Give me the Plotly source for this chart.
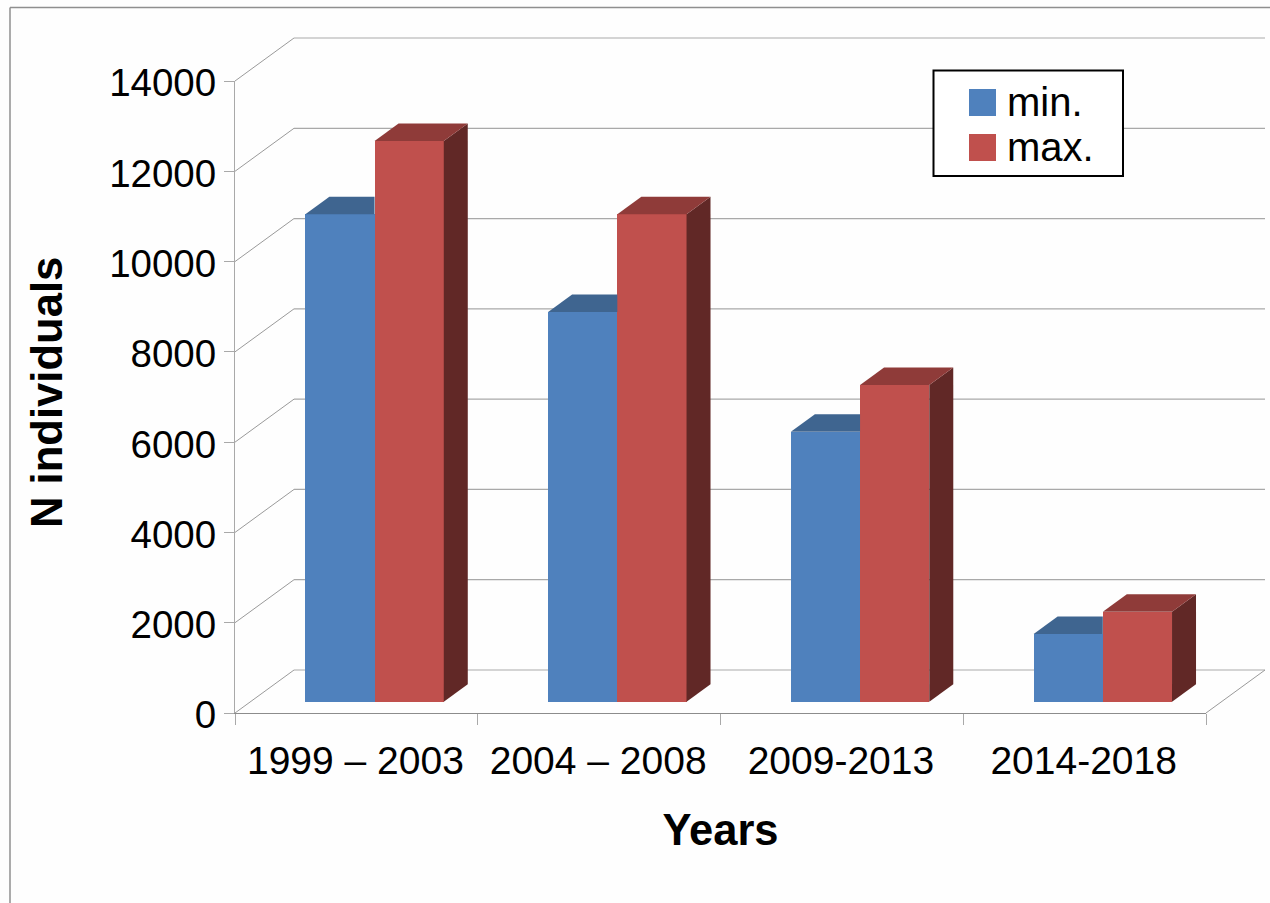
import plotly.graph_objects as go

# ---- data ----
periods = ["1999 – 2003", "2004 – 2008", "2009-2013", "2014-2018"]
min_values = [10800, 8630, 5980, 1500]
max_values = [12420, 10800, 7015, 1990]
y_ticks = [0, 2000, 4000, 6000, 8000, 10000, 12000, 14000]
series_names = ["min.", "max."]

# ---- layout geometry (pixels of the front plane) ----
L, R, T, B = 235, 1206, 81, 713
W, H = 1270, 903
XMAX, YMAX = len(periods), 14000
PX_X = (R - L) / XMAX          # px per category
PX_Y = (B - T) / YMAX          # px per value unit


def xu(px):
    return px / PX_X


def yu(px):
    return px / PX_Y


WALL_DX, WALL_DY = xu(59), yu(43)
OFF_DX, OFF_DY = xu(18.2), yu(11.3)
BAR_DX, BAR_DY = xu(24), yu(17.5)
BAR_W = xu(69.2)

BLUE = ["#4F81BD", "#3F6590", "#2F4C6E"]
RED = ["#C0504D", "#8F3B39", "#612826"]
GRID = "#A9A9A9"
AXIS = "#8C8C8C"
FONT = "Liberation Sans"
TICK_SIZE = 38.5


def px2paperx(px):
    return (px - L) / (R - L)


def px2papery(px):
    return (B - px) / (B - T)


def dx2p(x):
    return x / XMAX


def dy2p(y):
    return y / YMAX


shapes = []


def seg(x0, y0, x1, y1, color=GRID, width=1.2, layer="below"):
    shapes.append(dict(type="line", xref="paper", yref="paper",
                       x0=x0, y0=y0, x1=x1, y1=y1, layer=layer,
                       line=dict(color=color, width=width)))


# outer frame
seg(px2paperx(10), px2papery(903), px2paperx(10), px2papery(7.5), "#8F8F8F", 1.5)
seg(px2paperx(10), px2papery(7.5), px2paperx(1270), px2papery(7.5), "#8F8F8F", 1.5)

# 3D walls: diagonal on the side wall + horizontal on the back wall
for v in y_ticks:
    seg(0, dy2p(v), dx2p(WALL_DX), dy2p(v + WALL_DY), color="#9A9A9A", width=1)
    seg(dx2p(WALL_DX), dy2p(v + WALL_DY), dx2p(XMAX + WALL_DX), dy2p(v + WALL_DY))
seg(1, 0, dx2p(XMAX + WALL_DX), dy2p(WALL_DY), color="#9A9A9A", width=1)

fig = go.Figure()

base = OFF_DY
for s, (vals, cols, name) in enumerate(zip([min_values, max_values], [BLUE, RED], series_names)):
    xs = [i + 0.5 + OFF_DX + (s - 0.5) * BAR_W for i in range(len(periods))]
    fig.add_trace(go.Bar(x=xs, y=vals, base=[base] * len(vals), width=[BAR_W] * len(vals),
                         name=name, marker=dict(color=cols[0], line=dict(width=0)),
                         showlegend=False, hoverinfo="skip"))

for s, (vals, cols) in enumerate(zip([min_values, max_values], [BLUE, RED])):
    for i, v in enumerate(vals):
        xc = i + 0.5 + OFF_DX + (s - 0.5) * BAR_W
        x0, x1 = xc - BAR_W / 2, xc + BAR_W / 2
        top = v + base
        if s == 0:
            # the taller neighbour hides the part of the top to the right of the joint
            tx = [x0, x1, x1, x0 + BAR_DX, x0]
            ty = [top, top, top + BAR_DY, top + BAR_DY, top]
        else:
            tx = [x0, x1, x1 + BAR_DX, x0 + BAR_DX, x0]
            ty = [top, top, top + BAR_DY, top + BAR_DY, top]
            fig.add_trace(go.Scatter(
                x=[x1, x1 + BAR_DX, x1 + BAR_DX, x1, x1],
                y=[base, base + BAR_DY, top + BAR_DY, top, base],
                mode="lines", fill="toself", fillcolor=cols[2],
                line=dict(width=0), showlegend=False, hoverinfo="skip"))
        fig.add_trace(go.Scatter(x=tx, y=ty, mode="lines", fill="toself", fillcolor=cols[1],
                                 line=dict(width=0), showlegend=False, hoverinfo="skip"))

# legend, drawn at the reference's size
box = dict(type="rect", xref="paper", yref="paper", layer="above",
           x0=px2paperx(933.5), x1=px2paperx(1123), y0=px2papery(176), y1=px2papery(70.5),
           fillcolor="white", line=dict(color="black", width=2))
shapes.append(box)
annotations = []
for (name, cols, y0, ty) in zip(series_names, [BLUE, RED], [89, 134], [102.5, 146.5]):
    shapes.append(dict(type="rect", xref="paper", yref="paper", layer="above",
                       x0=px2paperx(969), x1=px2paperx(996),
                       y0=px2papery(y0 + 27), y1=px2papery(y0),
                       fillcolor=cols[0], line=dict(width=0)))
    annotations.append(dict(text=name, xref="paper", yref="paper", showarrow=False,
                            x=px2paperx(1005), y=px2papery(ty),
                            xanchor="left", yanchor="middle",
                            font=dict(family=FONT, size=40, color="black")))

# y axis title, placed where the reference has it
annotations.append(dict(text="<b>N individuals</b>", xref="paper", yref="paper", showarrow=False,
                        x=px2paperx(47), y=px2papery(393), textangle=-90,
                        xanchor="center", yanchor="middle",
                        font=dict(family=FONT, size=43.6, color="black")))

fig.update_layout(
    width=W, height=H, autosize=False,
    margin=dict(l=L, r=W - R, t=T, b=H - B, pad=0),
    paper_bgcolor="#FEFEFE", plot_bgcolor="rgba(0,0,0,0)",
    barmode="overlay", bargap=0, showlegend=False,
    shapes=shapes, annotations=annotations,
    xaxis=dict(range=[0, XMAX], tickmode="array", tickvals=[i + 0.5 for i in range(len(periods))],
               ticktext=periods, ticks="", showgrid=False, zeroline=False,
               showline=True, linecolor=AXIS, linewidth=1.2,
               ticklabelstandoff=13, ticklabelshift=-1,
               tickfont=dict(family=FONT, size=39, color="black"),
               minor=dict(tickmode="array", tickvals=list(range(XMAX + 1)), ticks="outside",
                          ticklen=11, tickcolor=GRID, tickwidth=1.2, showgrid=False),
               title=dict(text="<b>Years</b>", standoff=33,
                          font=dict(family=FONT, size=43.5, color="black")),
               automargin=True),
    yaxis=dict(range=[0, YMAX], tickmode="array", tickvals=y_ticks,
               ticktext=[str(v) for v in y_ticks], ticks="outside", ticklen=10,
               tickcolor=GRID, tickwidth=1.2, showgrid=False, zeroline=False,
               showline=True, linecolor=GRID, linewidth=1.2,
               ticklabelstandoff=0, ticklabelshift=2,
               tickfont=dict(family=FONT, size=TICK_SIZE, color="black")),
)

fig.write_html("out.html", config={"displayModeBar": False},
               post_script="document.body.style.margin='0';document.body.style.overflow='hidden';")
